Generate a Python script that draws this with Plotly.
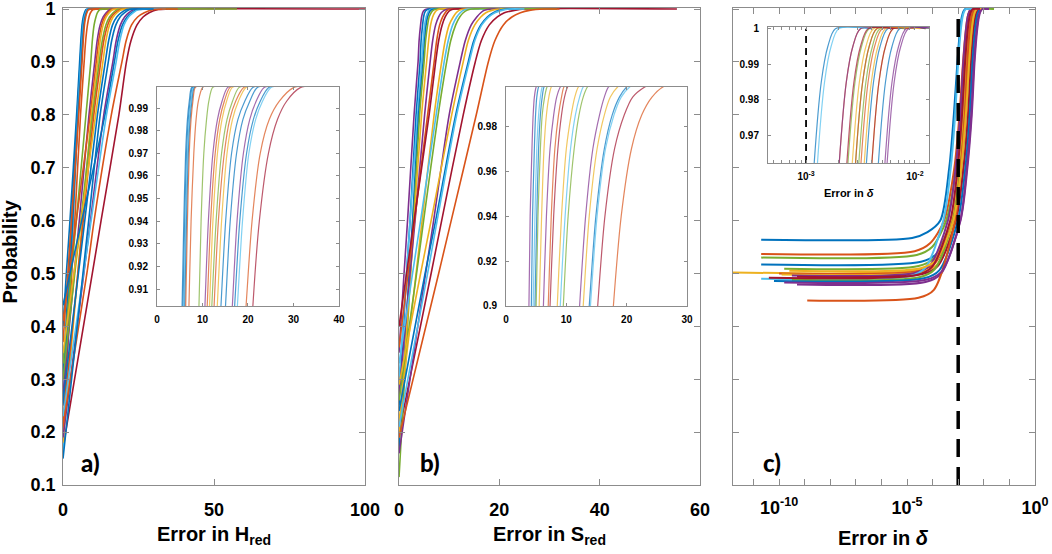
import numpy as np
import plotly.graph_objects as go

FONT = "Liberation Sans, Arial, sans-serif"
GREY = "#8c8c8c"
# MATLAB default line colours
PALETTE = ['#0072BD', '#D95319', '#EDB120', '#7E2F8E', '#77AC30', '#4DBEEE', '#A2142F']

# ---------------- a) error in H_red ----------------
A_LEVELS = [0.5, 0.6, 0.8, 0.9, 0.94, 0.97, 0.985, 0.993, 0.999, 1.0]
A_START = [0.17, 0.40, 0.30, 0.16, 0.25, 0.37, 0.20, 0.33, 0.27, 0.41,
           0.18, 0.30, 0.22, 0.35, 0.26, 0.19, 0.44, 0.23, 0.21, 0.15]
A_X = [
    [9.7, 12.6, 18.5, 21.0, 22.5, 24.5, 26.5, 28.5, 31.5, 35.0],
    [1.1, 2.3, 4.5, 5.5, 5.9, 6.3, 6.7, 7.1, 7.6, 8.5],
    [1.9, 2.8, 4.7, 5.7, 6.1, 6.5, 6.9, 7.3, 7.8, 8.7],
    [2.6, 3.4, 4.9, 5.9, 6.3, 6.7, 7.1, 7.5, 8.0, 9.0],
    [2.3, 3.2, 5.0, 6.1, 6.5, 6.9, 7.3, 7.7, 8.2, 9.2],
    [1.6, 2.8, 5.2, 6.3, 6.7, 7.1, 7.5, 7.9, 8.4, 9.4],
    [2.9, 3.9, 5.8, 7.0, 7.5, 8.1, 8.6, 9.1, 10.0, 11.0],
    [2.7, 4.4, 7.6, 9.2, 9.7, 10.3, 10.9, 11.4, 12.2, 13.5],
    [3.7, 5.4, 8.6, 10.5, 11.3, 12.3, 13.3, 14.3, 15.5, 17.0],
    [2.1, 4.4, 9.0, 11.0, 11.8, 12.8, 13.8, 14.8, 16.0, 17.5],
    [4.9, 6.4, 9.4, 11.5, 12.3, 13.3, 14.3, 15.3, 16.5, 18.0],
    [3.9, 5.9, 9.8, 12.0, 13.0, 14.2, 15.4, 16.6, 18.0, 20.0],
    [4.9, 6.7, 10.2, 12.5, 13.5, 14.8, 16.0, 17.3, 19.0, 21.0],
    [3.6, 6.0, 10.8, 13.2, 14.2, 15.4, 16.6, 17.9, 19.5, 21.5],
    [5.1, 7.2, 11.4, 14.0, 15.1, 16.4, 17.8, 19.3, 21.0, 23.0],
    [6.9, 9.1, 13.5, 16.5, 17.6, 19.0, 20.4, 21.8, 23.5, 26.0],
    [2.3, 6.2, 13.9, 17.0, 18.2, 19.7, 21.2, 22.7, 24.5, 27.0],
    [6.8, 9.3, 14.4, 17.6, 18.8, 20.2, 21.7, 23.2, 25.0, 27.5],
    [7.9, 10.3, 16.0, 19.5, 20.9, 22.7, 24.7, 26.9, 30.0, 33.0],
    [6.6, 8.5, 12.3, 15.0, 16.1, 17.5, 18.9, 20.4, 22.0, 24.0],
]
A_TAIL = [100, 12, 13, 14, 14, 15, 17, 20, 22, 24, 25, 57.6, 28, 30, 30, 32, 33, 34, 38, 30]
A_COLOR = [6, 0, 0, 5, 0, 1, 1, 4, 3, 1, 2, 4, 1, 2, 0, 3, 0, 5, 1, 0]

# ---------------- b) error in S_red ----------------
B_LEVELS = [0.5, 0.6, 0.8, 0.9, 0.94, 0.97, 0.985, 0.993, 0.9975, 1.0]
B_START = [0.20, 0.35, 0.25, 0.30, 0.17, 0.115, 0.19, 0.27, 0.36, 0.40,
           0.22, 0.33, 0.26, 0.16, 0.29, 0.24, 0.21, 0.19]
B_X = [
    [6.4, 8.5, 12.8, 15.2, 16.4, 18.0, 19.6, 21.0, 23.0, 25.0],
    [1.0, 1.7, 3.0, 3.8, 4.0, 4.3, 4.5, 4.7, 5.0, 5.6],
    [1.5, 2.2, 3.4, 4.2, 4.4, 4.7, 4.9, 5.1, 5.4, 6.0],
    [1.5, 2.2, 3.7, 4.5, 4.8, 5.1, 5.4, 5.7, 6.0, 6.6],
    [2.0, 2.7, 3.9, 4.8, 5.1, 5.4, 5.7, 6.0, 6.3, 7.0],
    [2.3, 2.9, 4.1, 5.0, 5.3, 5.7, 6.0, 6.4, 6.8, 7.5],
    [2.3, 3.0, 4.5, 5.5, 5.9, 6.3, 6.7, 7.1, 7.5, 8.2],
    [2.2, 3.2, 5.1, 6.2, 6.7, 7.3, 7.9, 8.4, 9.0, 9.8],
    [1.8, 3.1, 5.7, 7.0, 7.5, 8.1, 8.7, 9.2, 9.6, 10.5],
    [1.5, 3.0, 6.0, 7.3, 7.9, 8.6, 9.2, 9.7, 10.2, 11.0],
    [3.4, 4.6, 7.0, 8.5, 9.2, 10.0, 10.8, 11.4, 12.0, 13.0],
    [2.7, 4.3, 7.4, 9.0, 9.8, 10.7, 11.5, 12.2, 12.8, 13.8],
    [3.5, 4.9, 7.8, 9.5, 10.3, 11.3, 12.1, 12.8, 13.5, 14.5],
    [5.3, 6.9, 10.0, 12.2, 13.2, 14.4, 15.5, 16.3, 17.0, 18.5],
    [4.3, 6.4, 10.5, 12.8, 13.8, 15.1, 16.3, 17.3, 18.5, 20.0],
    [5.2, 7.3, 11.3, 13.8, 14.9, 16.3, 17.6, 18.8, 20.0, 21.5],
    [5.7, 7.6, 11.5, 14.0, 15.1, 16.5, 17.9, 19.1, 20.5, 22.0],
    [7.9, 10.4, 15.4, 17.8, 19.1, 20.8, 22.5, 24.2, 26.0, 29.0],
]
B_TAIL = [55.4, 8, 9, 10, 10, 11, 12, 13, 14, 15, 16, 17, 31.5, 20, 22, 24, 25, 32]
B_COLOR = [6, 3, 0, 5, 0, 4, 2, 3, 1, 6, 2, 5, 4, 3, 2, 0, 5, 1]

# ---------------- c) error in delta (log10 of x) ----------------
C_LEVELS = [0.6, 0.7, 0.8, 0.9, 0.96, 0.985, 0.995, 1.0]
C_LOW = [
    [0.564, 0.567, 0.578], [0.537, 0.542, 0.557], [0.530, 0.535, 0.550],
    [0.517, 0.522, 0.537], [0.509, 0.514, 0.529], [0.502, 0.507, 0.522],
    [0.500, 0.505, 0.520], [0.498, 0.503, 0.518], [0.496, 0.501, 0.516],
    [0.494, 0.499, 0.514], [0.490, 0.495, 0.510], [0.488, 0.493, 0.508],
    [0.486, 0.491, 0.506], [0.479, 0.484, 0.499], [0.449, 0.454, 0.469],
    [0.505, 0.510, 0.525], [0.492, 0.497, 0.512], [0.483, 0.488, 0.503],
]
C_LOGX = [
    [-10.7, -4.80, -4.20, -3.70, -3.35, -3.17, -3.03, -2.93, -2.86, -2.80, -2.73, -2.40],
    [-10.7, -4.70, -4.10, -3.55, -3.15, -2.95, -2.81, -2.70, -2.63, -2.57, -2.50, -2.20],
    [-10.7, -4.62, -4.02, -3.47, -3.07, -2.87, -2.73, -2.62, -2.55, -2.49, -2.42, -2.10],
    [-10.7, -4.45, -3.85, -3.23, -2.88, -2.69, -2.55, -2.45, -2.38, -2.32, -2.25, -2.00],
    [-9.8, -4.55, -3.95, -3.29, -2.97, -2.78, -2.65, -2.55, -2.48, -2.42, -2.35, -2.05],
    [-11.8, -4.58, -3.98, -3.28, -2.98, -2.80, -2.68, -2.58, -2.51, -2.45, -2.38, -2.05],
    [-10.0, -4.50, -3.90, -3.20, -2.90, -2.72, -2.60, -2.50, -2.43, -2.37, -2.30, -2.00],
    [-9.9, -4.40, -3.80, -3.10, -2.80, -2.62, -2.50, -2.40, -2.33, -2.27, -2.20, -1.90],
    [-9.5, -4.70, -4.10, -3.40, -3.10, -2.92, -2.80, -2.70, -2.63, -2.57, -2.50, -2.20],
    [-9.3, -4.40, -3.80, -3.09, -2.79, -2.61, -2.50, -2.40, -2.33, -2.27, -2.20, -1.90],
    [-10.7, -4.90, -4.30, -3.58, -3.29, -3.12, -3.00, -2.90, -2.83, -2.77, -2.70, -2.40],
    [-9.5, -4.52, -3.92, -3.20, -2.91, -2.74, -2.62, -2.52, -2.45, -2.39, -2.32, -1.60],
    [-10.2, -4.34, -3.74, -3.01, -2.72, -2.55, -2.44, -2.34, -2.27, -2.21, -2.14, -1.85],
    [-9.3, -4.28, -3.68, -2.92, -2.66, -2.49, -2.38, -2.28, -2.21, -2.15, -2.08, -1.80],
    [-8.9, -4.55, -3.95, -3.12, -2.90, -2.74, -2.64, -2.55, -2.48, -2.42, -2.35, -2.05],
    [-9.6, -4.47, -3.87, -3.19, -2.88, -2.70, -2.57, -2.47, -2.40, -2.34, -2.27, -1.95],
    [-10.4, -4.63, -4.03, -3.31, -3.02, -2.85, -2.73, -2.63, -2.56, -2.50, -2.43, -2.15],
    [-9.8, -4.26, -3.66, -2.91, -2.64, -2.47, -2.36, -2.26, -2.19, -2.13, -2.06, -1.80],
]
C_COLOR = [0, 1, 4, 0, 4, 2, 1, 2, 3, 6, 5, 4, 0, 3, 1, 2, 6, 3]
C_LIMIT = 1e-3

PROB_TICKS = [0.1, 0.2, 0.3, 0.4, 0.5, 0.6, 0.7, 0.8, 0.9, 1.0]
PROB_LABELS = ['0.1', '0.2', '0.3', '0.4', '0.5', '0.6', '0.7', '0.8', '0.9', '1']

fig = go.Figure()


def add_line(x, y, color, xa, ya, width, opacity=1.0, dash=None):
    fig.add_trace(go.Scatter(
        x=x, y=y, mode='lines', xaxis=xa, yaxis=ya, opacity=opacity,
        line=dict(color=color, width=width, shape='spline', smoothing=0.8, dash=dash),
        showlegend=False, hoverinfo='skip'))


for y0, xs, tail, ci in zip(A_START, A_X, A_TAIL, A_COLOR):
    x = [0] + xs + [tail]
    y = [y0] + A_LEVELS + [1.0]
    add_line(x, y, PALETTE[ci], 'x', 'y', 1.6)
    add_line(x, y, PALETTE[ci], 'x4', 'y4', 1.2, 0.7)

for y0, xs, tail, ci in zip(B_START, B_X, B_TAIL, B_COLOR):
    x = [0] + xs + [tail]
    y = [y0] + B_LEVELS + [1.0]
    add_line(x, y, PALETTE[ci], 'x2', 'y2', 1.6)
    add_line(x, y, PALETTE[ci], 'x5', 'y5', 1.2, 0.7)

for low, logx, ci in zip(C_LOW, C_LOGX, C_COLOR):
    x = 10 ** np.array(logx)
    y = low + C_LEVELS + [1.0]
    add_line(x, y, PALETTE[ci], 'x3', 'y3', 2.0)
    add_line(x, y, PALETTE[ci], 'x6', 'y6', 1.2, 0.7)

# threshold at 1e-3
add_line([C_LIMIT, C_LIMIT], [0.1, 1.0], 'black', 'x3', 'y3', 3.5, dash='18px,10px')
add_line([C_LIMIT, C_LIMIT], [0.9622, 1.0], 'black', 'x6', 'y6', 1.8, dash='7px,5px')


def ax(size, ticklen, **kw):
    d = dict(showline=True, linecolor=GREY, linewidth=1, mirror='ticks', ticks='inside',
             ticklen=ticklen, tickcolor=GREY, showgrid=False, zeroline=False,
             automargin=False, ticklabeloverflow='allow',
             tickfont=dict(family=FONT, size=size, color='black', weight='bold'))
    d.update(kw)
    return d


MAIN_Y = [0.1245, 0.9856]
INSET_Y = [0.4477, 0.8430]
log_ticks = [10.0 ** k for k in range(-11, 1)]
log_text = ['10<sup>%d</sup>' % k if k in (-10, -5, 0) else '' for k in range(-11, 1)]
inset_log = [k * 1e-4 for k in range(5, 10)] + [k * 1e-3 for k in range(1, 10)] + [1e-2]
inset_text = ['' for _ in range(5)] + ['10<sup>-3</sup>'] + ['' for _ in range(8)] + ['10<sup>-2</sup>']

fig.update_layout(
    width=1052, height=554, margin=dict(l=0, r=0, t=0, b=0, autoexpand=False),
    paper_bgcolor='white', plot_bgcolor='white',
    xaxis=ax(18, 6, domain=[0.0599, 0.3470], range=[0, 100], tickvals=[0, 50, 100],
             anchor='y', ticklabelstandoff=8),
    yaxis=ax(18, 6, domain=MAIN_Y, range=[0.1, 1.002], tickvals=PROB_TICKS,
             ticktext=PROB_LABELS, anchor='x', ticklabelstandoff=3),
    xaxis2=ax(18, 6, domain=[0.3793, 0.6654], range=[0, 60], tickvals=[0, 20, 40, 60],
              anchor='y2', ticklabelstandoff=8),
    yaxis2=ax(18, 6, domain=MAIN_Y, range=[0.1, 1.002], tickvals=PROB_TICKS,
              showticklabels=False, anchor='x2'),
    xaxis3=ax(18, 6, type='log', domain=[0.6968, 0.9838], range=[-11.8, 0],
              tickvals=log_ticks, ticktext=log_text, anchor='y3', ticklabelstandoff=6),
    yaxis3=ax(18, 6, domain=MAIN_Y, range=[0.1, 1.002], tickvals=PROB_TICKS,
              showticklabels=False, anchor='x3'),
    xaxis4=ax(10, 3, domain=[0.1492, 0.3222], range=[0, 40], tickvals=[0, 10, 20, 30, 40],
              anchor='y4', ticklabelstandoff=4),
    yaxis4=ax(10, 3, domain=INSET_Y, range=[0.9025, 0.9993],
              tickvals=[0.91, 0.92, 0.93, 0.94, 0.95, 0.96, 0.97, 0.98, 0.99],
              tickformat='.2f', anchor='x4', ticklabelstandoff=6),
    xaxis5=ax(10, 3, domain=[0.4810, 0.6530], range=[0, 30], tickvals=[0, 10, 20, 30],
              anchor='y5', ticklabelstandoff=4),
    yaxis5=ax(10, 3, domain=INSET_Y, range=[0.9, 0.9975],
              tickvals=[0.9, 0.92, 0.94, 0.96, 0.98],
              ticktext=['0.9', '0.92', '0.94', '0.96', '0.98'], anchor='x5', ticklabelstandoff=6),
    xaxis6=ax(10, 3, type='log', domain=[0.7300, 0.8831], range=[-3.35, -1.87],
              tickvals=inset_log, ticktext=inset_text, anchor='y6', ticklabelstandoff=4),
    yaxis6=ax(10, 3, domain=[0.7058, 0.9513], range=[0.9622, 1.0005],
              tickvals=[0.97, 0.98, 0.99, 1.0], ticktext=['0.97', '0.98', '0.99', '1'],
              anchor='x6', ticklabelstandoff=6),
)

title_font = dict(family=FONT, size=20, color='black', weight='bold')
label_font = dict(family="Lato, Liberation Sans, sans-serif", size=24, color='black', weight=900)
notes = [
    dict(text='Probability', x=0.0100, y=0.545, textangle=-90, font=title_font),
    dict(text='Error in H<sub>red</sub>', x=0.2034, y=0.033, font=title_font),
    dict(text='Error in S<sub>red</sub>', x=0.5223, y=0.033, font=title_font),
    dict(text='Error in <i>δ</i>', x=0.8403, y=0.028, font=title_font),
    dict(text='Error in <i>δ</i>', x=0.8066, y=0.6516,
         font=dict(family=FONT, size=11, color='black', weight='bold')),
    dict(text='a)', x=0.0856, y=0.1643, font=label_font),
    dict(text='b)', x=0.4087, y=0.1643, font=label_font),
    dict(text='c)', x=0.7338, y=0.1643, font=label_font),
]
for n in notes:
    fig.add_annotation(xref='paper', yref='paper', showarrow=False,
                       xanchor='center', yanchor='middle', **n)

# the page body has a default 8px margin; drop it so the figure fills the window
fig.write_html("out.html", config={'displayModeBar': False},
               post_script="document.body.style.margin='0';")
